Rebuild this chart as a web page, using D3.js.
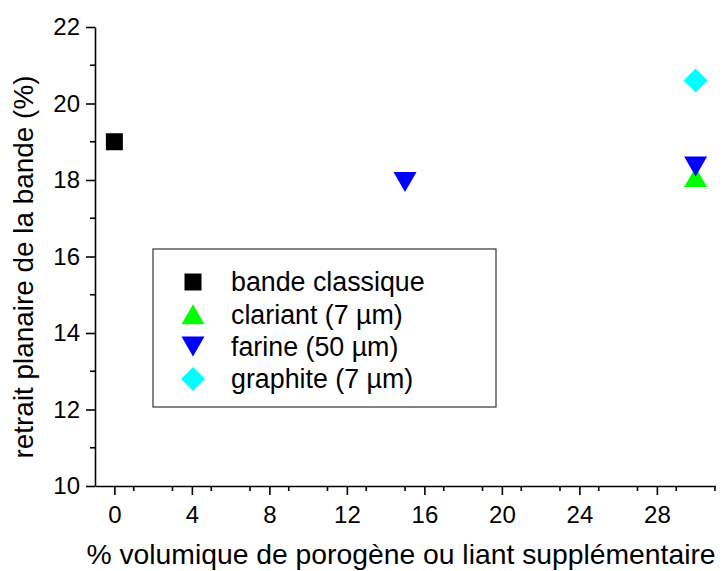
<!DOCTYPE html>
<html lang="fr">
  <head>
    <meta charset="utf-8" />
    <title>Retrait planaire</title>
    <script src="https://cdn.jsdelivr.net/npm/d3@7"></script>
    <style>
      body { margin: 0; background: white; }
      text { font-family: "Liberation Sans", Arial, sans-serif; fill: black; }
    </style>
  </head>
  <body>
    <script>
// data
var seriesNames = ["bande classique", "clariant (7 µm)", "farine (50 µm)", "graphite (7 µm)"];
var seriesColors = ["black", "#00ff00", "#0000ff", "#00ffff"];
var seriesShapes = ["square", "triangleUp", "triangleDown", "diamond"];
var bandeX = [0];
var bandeY = [19.0];
var clariantX = [30];
var clariantY = [18.08];
var farineX = [15, 30];
var farineY = [17.95, 18.35];
var graphiteX = [30];
var graphiteY = [20.6];
var xTicks = [0, 4, 8, 12, 16, 20, 24, 28];
var yTicks = [10, 12, 14, 16, 18, 20, 22];

var w = 728, h = 571;
var pad = { left: 95, right: 13, top: 27, bottom: 85 };

var svg = d3.select("body").append("svg")
            .attr("width", w)
            .attr("height", h);

var xScale = d3.scaleLinear().domain([-1, 31]).range([pad.left, w - pad.right]);
var yScale = d3.scaleLinear().domain([10, 22]).range([h - pad.bottom, pad.top]);

// marker paths centred on 0,0
function shapePath(kind) {
  if (kind == "square") return "M-8.5,-8.5H8.5V8.5H-8.5Z";
  if (kind == "triangleUp") return "M0,-10L11.5,10H-11.5Z";
  if (kind == "triangleDown") return "M0,10L11.5,-10H-11.5Z";
  return "M0,-12L12,0L0,12L-12,0Z";
}

// axes
var xMinor = d3.range(-1, 32, 2).filter(function(d) { return d % 4 != 0; });
var yMinor = d3.range(11, 22, 2);

var gx = svg.append("g").attr("transform", "translate(0," + yScale(10) + ")");
gx.call(d3.axisBottom(xScale).tickValues(xTicks).tickSize(9).tickSizeOuter(0).tickPadding(11));
gx.append("g").selectAll("line").data(xMinor.filter(function(d) { return d > -1; }))
  .enter().append("line")
  .attr("x1", function(d) { return xScale(d); })
  .attr("x2", function(d) { return xScale(d); })
  .attr("y2", 5);

var gy = svg.append("g").attr("transform", "translate(" + xScale(-1) + ",0)");
gy.call(d3.axisLeft(yScale).tickValues(yTicks).tickSize(9).tickSizeOuter(0).tickPadding(6));
gy.append("g").selectAll("line").data(yMinor)
  .enter().append("line")
  .attr("y1", function(d) { return yScale(d); })
  .attr("y2", function(d) { return yScale(d); })
  .attr("x2", -5);

svg.selectAll(".domain").attr("stroke", "black").attr("stroke-width", 1.6);
svg.selectAll(".tick line").attr("stroke", "black").attr("stroke-width", 1.6);
gx.selectAll("g > line").attr("stroke", "black").attr("stroke-width", 1.6);
gy.selectAll("g > line").attr("stroke", "black").attr("stroke-width", 1.6);
svg.selectAll(".tick text").attr("font-size", "24px").attr("fill", "black")
   .attr("font-family", "'Liberation Sans', Arial, sans-serif");

// axis titles
svg.append("text")
   .attr("x", 401)
   .attr("y", 564)
   .attr("text-anchor", "middle")
   .attr("font-size", "28.3px")
   .text("% volumique de porogène ou liant supplémentaire");
svg.append("text")
   .attr("transform", "translate(33,267) rotate(-90)")
   .attr("text-anchor", "middle")
   .attr("font-size", "27.9px")
   .text("retrait planaire de la bande (%)");

// points
var series = [
  { x: bandeX, y: bandeY },
  { x: clariantX, y: clariantY },
  { x: farineX, y: farineY },
  { x: graphiteX, y: graphiteY }
];
series.forEach(function(s, i) {
  svg.append("g").selectAll("path")
     .data(s.x)
     .enter()
     .append("path")
     .attr("d", shapePath(seriesShapes[i]))
     .attr("fill", seriesColors[i])
     .attr("transform", function(d, j) {
       return "translate(" + xScale(d) + "," + yScale(s.y[j]) + ")";
     });
});

// legend
var leg = svg.append("g").attr("transform", "translate(153,249)");
leg.append("rect")
   .attr("width", 343)
   .attr("height", 158)
   .attr("fill", "white")
   .attr("stroke", "#333")
   .attr("stroke-width", 1.2);
var rows = leg.selectAll("g.row")
   .data(seriesNames)
   .enter()
   .append("g")
   .attr("class", "row")
   .attr("transform", function(d, i) { return "translate(40," + (33 + i * 32.3) + ")"; });
rows.append("path")
    .attr("d", function(d, i) { return shapePath(seriesShapes[i]); })
    .attr("fill", function(d, i) { return seriesColors[i]; });
rows.append("text")
    .attr("x", 38)
    .attr("dy", "0.35em")
    .attr("font-size", "26.8px")
    .text(function(d) { return d; });
    </script>
  </body>
</html>
